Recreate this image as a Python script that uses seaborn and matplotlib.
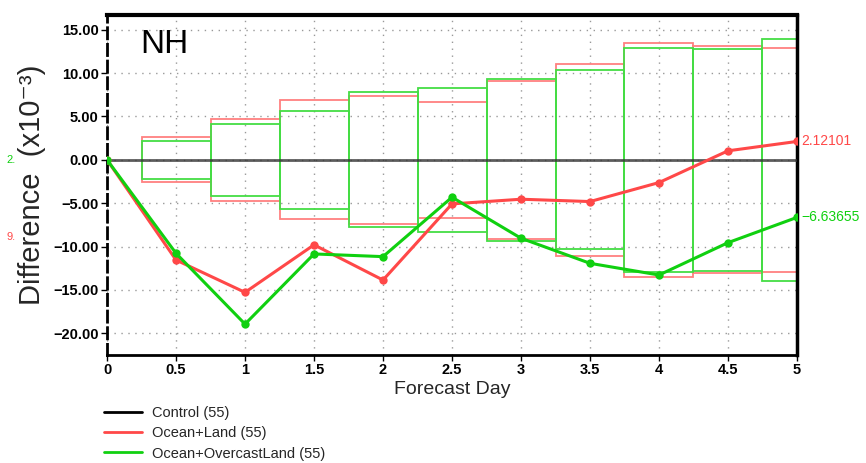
import numpy as np
import pandas as pd
import matplotlib
matplotlib.use("Agg")
import matplotlib.pyplot as plt
from matplotlib.lines import Line2D
import seaborn as sns

# ---------------- data ----------------
days = [0, 0.5, 1, 1.5, 2, 2.5, 3, 3.5, 4, 4.5, 5]
ocean_land = [0, -11.55, -15.28, -9.8, -13.86, -5.08, -4.54, -4.81, -2.62, 1.04, 2.12101]
ocean_overcast = [0, -10.78, -18.94, -10.85, -11.16, -4.31, -9.04, -11.93, -13.28, -9.55, -6.63655]
control = [0] * len(days)

box_days = [0.5, 1, 1.5, 2, 2.5, 3, 3.5, 4, 4.5, 5]
box_ocean_land = [2.6, 4.73, 6.85, 7.39, 6.66, 9.12, 11.05, 13.47, 13.08, 12.9]
box_ocean_overcast = [2.2, 4.16, 5.66, 7.77, 8.28, 9.31, 10.31, 12.9, 12.78, 13.94]

xticks = [0, 0.5, 1, 1.5, 2, 2.5, 3, 3.5, 4, 4.5, 5]
xticklabels = ["0", "0.5", "1", "1.5", "2", "2.5", "3", "3.5", "4", "4.5", "5"]
yticks = [15, 10, 5, 0, -5, -10, -15, -20]
yticklabels = ["15.00", "10.00", "5.00", "0.00", "\u22125.00", "\u221210.00", "\u221215.00", "\u221220.00"]

labels = ["Control (55)", "Ocean+Land (55)", "Ocean+OvercastLand (55)"]
colors = ["#000000", "#ff4848", "#10d010"]
box_colors = ["#ff8080", "#44dd44"]

# ---------------- style ----------------
sns.set_theme(style="white")
plt.rcParams["font.family"] = ["Liberation Sans", "DejaVu Sans"]

fig = plt.figure(figsize=(8.66, 4.63), dpi=100)
ax = fig.add_axes([0.1236, 0.2333, 0.7967, 0.7343])

# CI boxes (outline bars symmetric about zero)
bl = np.array(box_ocean_land)
bo = np.array(box_ocean_overcast)
ax.bar(box_days, 2 * bl, bottom=-bl, width=0.5, fill=False,
       edgecolor=box_colors[0], linewidth=1.3, zorder=2)
ax.bar(box_days, 2 * bo, bottom=-bo, width=0.5, fill=False,
       edgecolor=box_colors[1], linewidth=1.3, zorder=2.1)

# control line
df_ctrl = pd.DataFrame({"day": days, "value": control})
sns.lineplot(data=df_ctrl, x="day", y="value", color="#333333", alpha=0.8,
             linewidth=2, ax=ax, zorder=3)

df = pd.DataFrame({
    "day": days * 2,
    "value": ocean_land + ocean_overcast,
    "series": [labels[1]] * len(days) + [labels[2]] * len(days),
})
sns.lineplot(data=df, x="day", y="value", hue="series",
             palette={labels[1]: colors[1], labels[2]: colors[2]},
             marker="o", markersize=6, markeredgewidth=0, linewidth=2.2,
             ax=ax, legend=False, zorder=4)

ax.set_xlim(0, 5)
ax.set_ylim(-22.5, 16.7)
ax.set_xticks(xticks)
ax.set_xticklabels(xticklabels)
ax.set_yticks(yticks)
ax.set_yticklabels(yticklabels)
ax.tick_params(axis="both", labelsize=10.5, length=4, width=1, direction="out",
               colors="black", pad=2, bottom=True, left=True)
for lab in ax.get_xticklabels() + ax.get_yticklabels():
    lab.set_fontweight("bold")

ax.grid(True, linestyle=(0, (1, 4)), color="#999999", linewidth=1)

for side in ["left", "right", "top", "bottom"]:
    ax.spines[side].set_visible(True)
    ax.spines[side].set_color("black")
ax.spines["top"].set_linewidth(3)
ax.spines["bottom"].set_linewidth(2)
ax.spines["left"].set_linewidth(2)
ax.spines["left"].set_linestyle((0, (4, 2)))
ax.spines["right"].set_linewidth(2.5)

ax.set_xlabel("Forecast Day", fontsize=14, labelpad=3)
ax.set_ylabel("Difference  (x10\u207b\u00b3)", fontsize=21, labelpad=5)

ax.text(0.24, 13.3, "NH", fontsize=24, ha="left", va="center", color="black")

# end value labels
ax.text(5.03, ocean_land[-1], f"{ocean_land[-1]:.5f}", color=colors[1],
        fontsize=10, va="center", ha="left", clip_on=False)
ax.text(5.03, ocean_overcast[-1], f"\u2212{abs(ocean_overcast[-1]):.5f}",
        color=colors[2], fontsize=10, va="center", ha="left", clip_on=False)

# clipped labels on the left margin
fig.text(0.008, 1 - 160 / 463, "2.", color=colors[2], fontsize=8, va="center")
fig.text(0.008, 1 - 237 / 463, "9.", color=colors[1], fontsize=8, va="center")

# legend
handles = [Line2D([0], [0], color=c, linewidth=2) for c in colors]
fig.legend(handles, labels, loc="upper left", bbox_to_anchor=(0.113, 0.135),
           frameon=False, fontsize=10.5, handlelength=2.6, labelspacing=0.42,
           borderaxespad=0, handletextpad=0.7)

fig.savefig("out.png", dpi=100)
